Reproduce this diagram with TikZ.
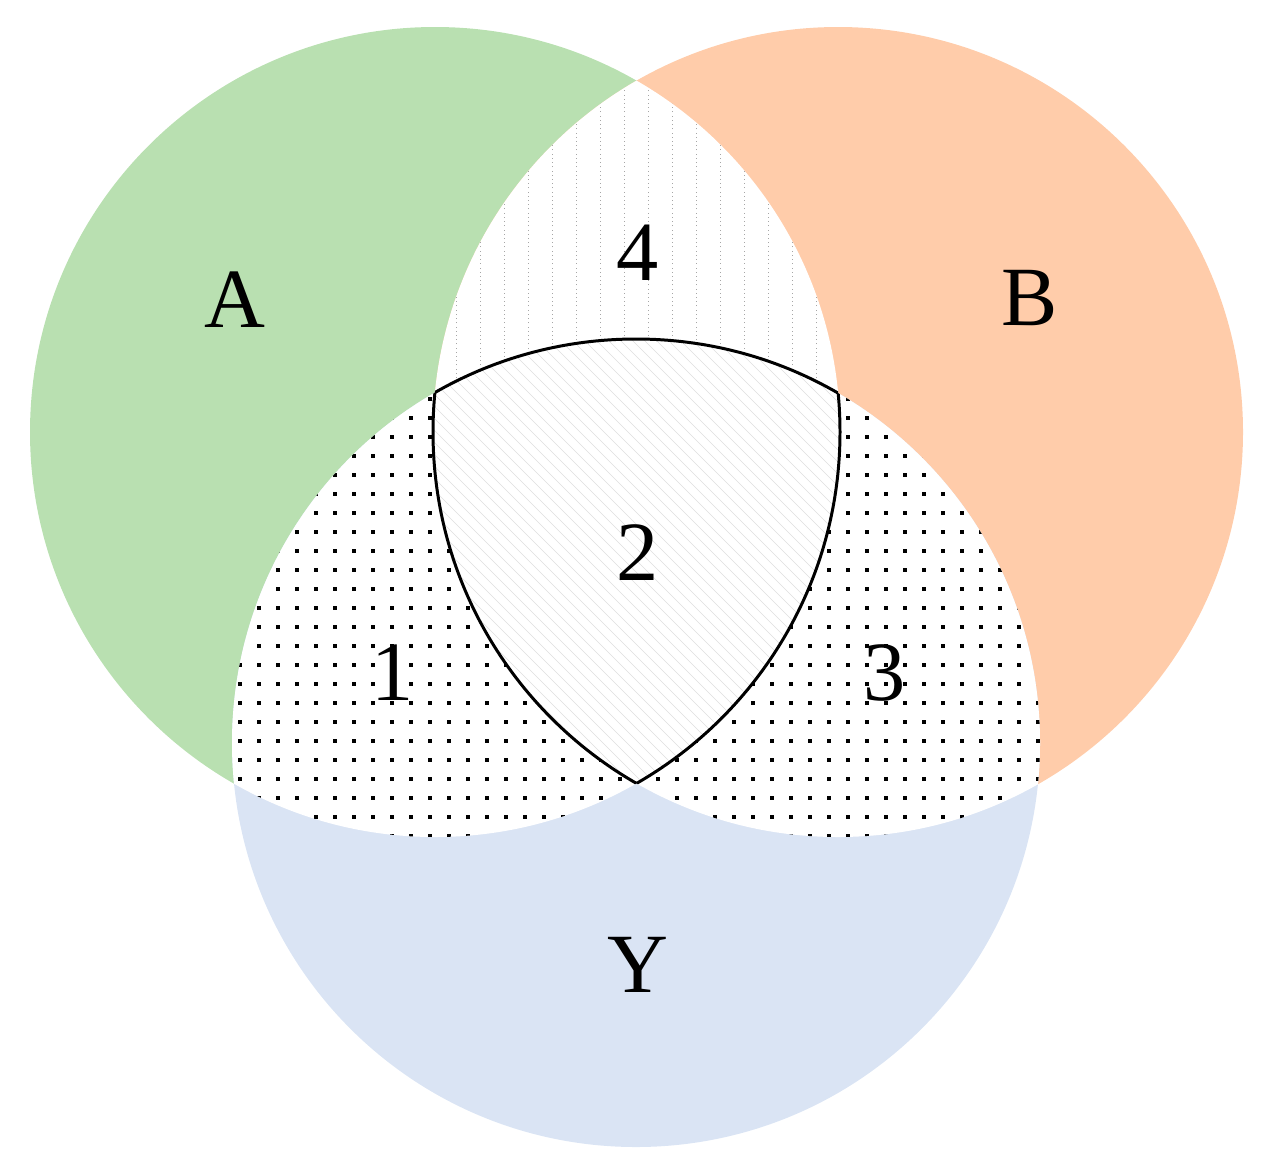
\documentclass[tikz,border=0pt]{standalone}
\usepackage{fontspec}
\setmainfont{Liberation Serif}
\begin{document}
\begin{tikzpicture}[x=0.02cm,y=-0.02cm]
\definecolor{cA}{RGB}{185,224,177}
\definecolor{cB}{RGB}{255,204,170}
\definecolor{cY}{RGB}{218,228,244}
\tikzset{lbl/.style={font=\fontsize{48}{48}\selectfont,inner sep=0}}
\useasboundingbox (0,0) rectangle (1270,1174);
\def\A{(435,432) circle[radius=405]}
\def\B{(838,432) circle[radius=405]}
\def\Y{(636,743) circle[radius=404]}
\fill[cA] \A; \fill[cB] \B; \fill[cY] \Y;
\begin{scope}\clip \A; \fill[white] \Y; \fill[white] \B;
  \clip \Y;
  \foreach \i in {0,...,42}{\foreach \j in {0,...,24}{\fill[black] (240+19*\i-2,380+19*\j-2) rectangle ++(4,4);}}
\end{scope}
\begin{scope}\clip \B; \fill[white] \Y;
  \clip \Y;
  \foreach \i in {0,...,42}{\foreach \j in {0,...,24}{\fill[black] (240+19*\i-2,380+19*\j-2) rectangle ++(4,4);}}
\end{scope}
\begin{scope}\clip \A; \clip \B;
  \draw[gray!70,dotted,line width=0.4pt] (420,60) grid[step=24] (860,420);
  \clip \Y; \fill[white] (0,0) rectangle (1270,1174);
  \foreach \k in {-40,...,40}{\draw[gray!25,line width=0.3pt] (430+12*\k,330) -- ++(460,460);}
\end{scope}
\begin{scope}\clip \A; \clip \B; \draw[line width=1.7pt] \Y; \end{scope}
\begin{scope}\clip \A; \clip \Y; \draw[line width=1.7pt] \B; \end{scope}
\begin{scope}\clip \B; \clip \Y; \draw[line width=1.7pt] \A; \end{scope}
\node[lbl] (a) at (235,300) {A};
\node[lbl] (b) at (1030,298) {B};
\node[lbl] (y) at (638,965) {Y};
\node[lbl] (n1) at (393,673) {1};
\node[lbl] (n2) at (638,553) {2};
\node[lbl] (n3) at (885,673) {3};
\node[lbl] (n4) at (638,253) {4};
\end{tikzpicture}
\end{document}
